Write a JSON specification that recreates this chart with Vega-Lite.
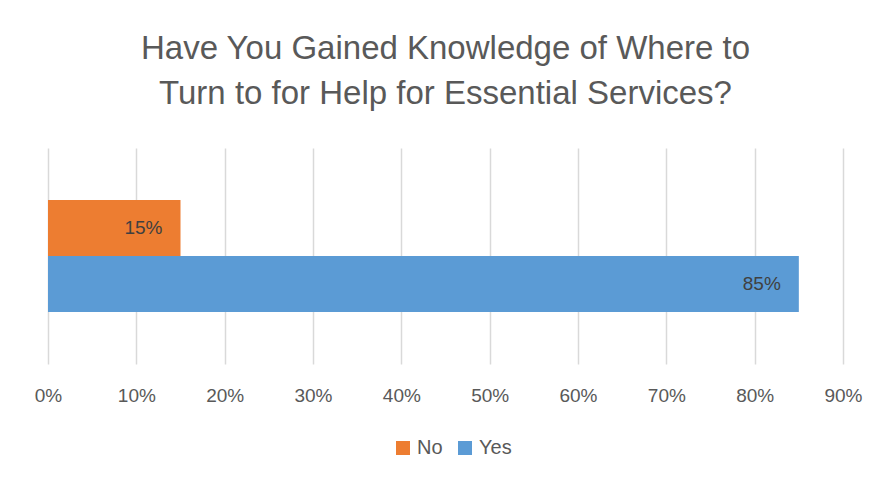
{
  "$schema": "https://vega.github.io/schema/vega-lite/v6.json",
  "width": 795,
  "height": 216,
  "autosize": "none",
  "padding": {"left": 48, "top": 148, "right": 51, "bottom": 123},
  "background": "white",
  "title": {
    "text": ["Have You Gained Knowledge of Where to", "Turn to for Help for Essential Services?"],
    "font": "Liberation Sans",
    "fontSize": 33,
    "fontWeight": "normal",
    "color": "#595959",
    "lineHeight": 45,
    "offset": 37,
    "anchor": "middle"
  },
  "data": {
    "values": [
      {"answer": "No", "pct": 0.15, "label": "15%"},
      {"answer": "Yes", "pct": 0.85, "label": "85%"}
    ]
  },
  "encoding": {
    "y": {
      "field": "answer",
      "type": "nominal",
      "axis": null,
      "scale": {"domain": ["No", "Yes"], "paddingInner": 0, "paddingOuter": 0.93}
    },
    "x": {
      "field": "pct",
      "type": "quantitative",
      "scale": {"domain": [0, 0.9], "nice": false, "zero": true},
      "axis": {
        "title": null,
        "format": ".0%",
        "values": [0, 0.1, 0.2, 0.3, 0.4, 0.5, 0.6, 0.7, 0.8, 0.9],
        "domain": false,
        "ticks": false,
        "grid": true,
        "gridColor": "#D9D9D9",
        "gridWidth": 1.5,
        "labelFlush": false,
        "labelFont": "Liberation Sans",
        "labelFontSize": 19,
        "labelColor": "#595959",
        "labelPadding": 22
      }
    }
  },
  "layer": [
    {
      "mark": {"type": "bar"},
      "encoding": {
        "color": {
          "field": "answer",
          "type": "nominal",
          "scale": {"domain": ["No", "Yes"], "range": ["#ED7D31", "#5B9BD5"]},
          "legend": {
            "title": null,
            "orient": "none",
            "legendX": 345,
            "legendY": 290,
            "direction": "horizontal",
            "symbolType": "square",
            "symbolSize": 196,
            "symbolStrokeWidth": 0,
            "symbolOpacity": 1,
            "labelFont": "Liberation Sans",
            "labelFontSize": 20,
            "labelColor": "#595959",
            "columnPadding": 12,
            "labelOffset": 4
          }
        }
      }
    },
    {
      "mark": {
        "type": "text",
        "align": "right",
        "baseline": "middle",
        "dx": -18,
        "font": "Liberation Sans",
        "fontSize": 19,
        "color": "#404040"
      },
      "encoding": {"text": {"field": "label"}}
    }
  ],
  "config": {"view": {"stroke": null}}
}
